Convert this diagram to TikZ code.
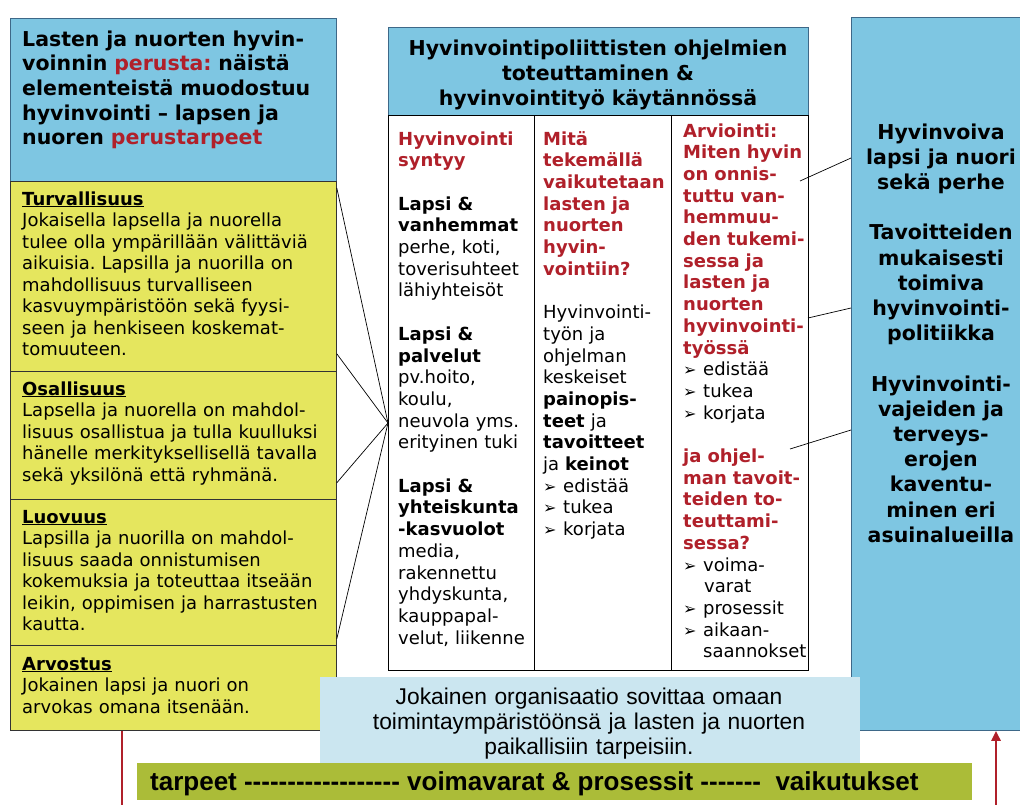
\documentclass[tikz,border=0pt]{standalone}
\usepackage{fontspec}
\setmainfont{DejaVu Sans}
\newfontfamily\arialfont{Liberation Sans}
\usetikzlibrary{arrows.meta}
\frenchspacing

\definecolor{skyblue}{RGB}{126,198,226}
\definecolor{skyedge}{RGB}{62,104,136}
\definecolor{lemon}{RGB}{229,230,94}
\definecolor{paleblue}{RGB}{203,230,240}
\definecolor{barolive}{RGB}{171,188,56}
\definecolor{accent}{RGB}{176,32,42}

\newcommand{\bul}{\makebox[20pt][l]{\fontsize{16}{16}\selectfont ➢}}
\newcommand{\hi}[1]{\textcolor{accent}{\textbf{#1}}}
\newcommand{\dashrow}[1]{\foreach \i in {1,...,#1}{-{}}}

\begin{document}
\begin{tikzpicture}[x=1pt,y=-1pt]
\useasboundingbox (0,0) rectangle (1020,804);

% boxes
\begin{scope}[every node/.style={draw,anchor=north west,inner sep=0pt,line width=0.8pt}]
  \node[fill=skyblue,draw=skyedge,minimum width=326pt,minimum height=163pt] (basis) at (10,18) {};
  \node[fill=lemon,draw=black!80,minimum width=326pt,minimum height=190pt] (turva) at (10,181) {};
  \node[fill=lemon,draw=black!80,minimum width=326pt,minimum height=128pt] (osal)  at (10,371) {};
  \node[fill=lemon,draw=black!80,minimum width=326pt,minimum height=146pt] (luov)  at (10,499) {};
  \node[fill=lemon,draw=black!80,minimum width=326pt,minimum height=85pt]  (arvo)  at (10,645) {};
  \node[fill=skyblue,draw=skyedge,minimum width=420pt,minimum height=88pt] (head) at (388,27) {};
  \node[fill=white,minimum width=146pt,minimum height=555pt] (col1) at (388,115) {};
  \node[fill=white,minimum width=137pt,minimum height=555pt] (col2) at (534,115) {};
  \node[fill=white,minimum width=137pt,minimum height=555pt] (col3) at (671,115) {};
  \node[fill=skyblue,draw=skyedge,minimum width=180pt,minimum height=713pt] (goal) at (851,17) {};
\end{scope}

% left column texts
\begin{scope}[every node/.style={anchor=base west,inner sep=0pt,align=left,text width=330pt,
    font=\fontsize{18}{21.5}\selectfont}]
  \node[font=\bfseries\fontsize{20.5}{24.7}\selectfont] (basistext) at (22,46)
    {Lasten ja nuorten hyvin-\\ voinnin \hi{perusta:} näistä\\ elementeistä muodostuu\\
     hyvinvointi – lapsen ja\\ nuoren \hi{perustarpeet}};
  \node (turvatext) at (22,205)
    {\textbf{\underline{Turvallisuus}}\\ Jokaisella lapsella ja nuorella\\ tulee olla ympärillään välittäviä\\
     aikuisia. Lapsilla ja nuorilla on\\ mahdollisuus turvalliseen\\ kasvuympäristöön sekä fyysi-\\
     seen ja henkiseen koskemat-\\ tomuuteen.};
  \node (osaltext) at (22,395)
    {\textbf{\underline{Osallisuus}}\\ Lapsella ja nuorella on mahdol-\\ lisuus osallistua ja tulla kuulluksi\\
     hänelle merkityksellisellä tavalla\\ sekä yksilönä että ryhmänä.};
  \node (luovtext) at (22,523)
    {\textbf{\underline{Luovuus}}\\ Lapsilla ja nuorilla on mahdol-\\ lisuus saada onnistumisen\\
     kokemuksia ja toteuttaa itseään\\ leikin, oppimisen ja harrastusten\\ kautta.};
  \node (arvotext) at (22,670)
    {\textbf{\underline{Arvostus}}\\ Jokainen lapsi ja nuori on\\ arvokas omana itsenään.};
\end{scope}

% middle texts
\node[anchor=base,inner sep=0pt,align=center,text width=420pt,
  font=\bfseries\fontsize{20.5}{25}\selectfont] (headtext) at (598,55)
  {Hyvinvointipoliittisten ohjelmien\\ toteuttaminen \&\\ hyvinvointityö käytännössä};

\begin{scope}[every node/.style={anchor=base west,inner sep=0pt,align=left,text width=150pt,
    font=\fontsize{18}{21.7}\selectfont}]
  \node (col1text) at (398,145)
    {\hi{Hyvinvointi}\\ \hi{syntyy}\\[21.7pt]
     \textbf{Lapsi \&}\\ \textbf{vanhemmat}\\ perhe, koti,\\ toverisuhteet\\ lähiyhteisöt\\[21.7pt]
     \textbf{Lapsi \&}\\ \textbf{palvelut}\\ pv.hoito,\\ koulu,\\ neuvola yms.\\ erityinen tuki\\[21.7pt]
     \textbf{Lapsi \&}\\ \textbf{yhteiskunta}\\ \textbf{-kasvuolot}\\ media,\\ rakennettu\\
     yhdyskunta,\\ kauppapal-\\ velut, liikenne};
  \node (col2text) at (543,145)
    {\hi{Mitä}\\ \hi{tekemällä}\\ \hi{vaikutetaan}\\ \hi{lasten ja}\\ \hi{nuorten}\\ \hi{hyvin-}\\
     \hi{vointiin?}\\[21.7pt]
     Hyvinvointi-\\ työn ja\\ ohjelman\\ keskeiset\\ \textbf{painopis-}\\ \textbf{teet} ja\\
     \textbf{tavoitteet}\\ ja \textbf{keinot}\\ \bul edistää\\ \bul tukea\\ \bul korjata};
  \node (col3text) at (683,137)
    {\hi{Arviointi:}\\ \hi{Miten hyvin}\\ \hi{on onnis-}\\ \hi{tuttu van-}\\ \hi{hemmuu-}\\
     \hi{den tukemi-}\\ \hi{sessa ja}\\ \hi{lasten ja}\\ \hi{nuorten}\\ \hi{hyvinvointi-}\\ \hi{työssä}\\
     \bul edistää\\ \bul tukea\\ \bul korjata\\[21.7pt]
     \hi{ja ohjel-}\\ \hi{man tavoit-}\\ \hi{teiden to-}\\ \hi{teuttami-}\\ \hi{sessa?}\\
     \bul voima-\\ \hspace*{21pt}varat\\ \bul prosessit\\ \bul aikaan-\\ \hspace*{20pt}saannokset};
\end{scope}

% right column text
\node[anchor=base,inner sep=0pt,align=center,text width=200pt,
  font=\bfseries\fontsize{20.5}{25.2}\selectfont] (goaltext) at (941,139)
  {Hyvinvoiva\\ lapsi ja nuori\\ sekä perhe\\[25.2pt]
   Tavoitteiden\\ mukaisesti\\ toimiva\\ hyvinvointi-\\ politiikka\\[25.2pt]
   Hyvinvointi-\\ vajeiden ja\\ terveys-\\ erojen\\ kaventu-\\ minen eri\\ asuinalueilla};

% connectors
\coordinate (fan) at (388,423);
\coordinate (arv1) at (800,181);
\coordinate (arv2) at (808,318);
\coordinate (arv3) at (790,449);
\coordinate (out1) at (851,158);
\coordinate (out2) at (851,308);
\coordinate (out3) at (851,430);
\begin{scope}[every edge/.style={draw,line width=0.7pt}]
  \path (fan) edge ([yshift=-7pt]turva.north east);
  \path (fan) edge ([yshift=18pt]turva.south east);
  \path (fan) edge ([yshift=17pt]osal.south east);
  \path (fan) edge ([yshift=7pt]luov.south east);
  \path (arv1) edge (out1);
  \path (arv2) edge (out2);
  \path (arv3) edge (out3);
\end{scope}

% bottom
\coordinate (need) at (122,806);
\coordinate (impact) at (996,806);
\draw[accent,line width=2.5pt] (need |- arvo.south) -- (need);
\draw[accent,line width=2.5pt,-{Triangle[length=10pt,width=9pt]}] (impact) -- (impact |- goal.south);

\node[fill=paleblue,anchor=north west,inner sep=0pt,minimum width=540pt,minimum height=89pt] (local) at (320,677) {};
\node[anchor=base,inner sep=0pt,align=center,text width=540pt,
  font=\arialfont\fontsize{22.8}{25}\selectfont] (localtext) at (589,704)
  {Jokainen organisaatio sovittaa omaan\\ toimintaympäristöönsä ja lasten ja nuorten\\ paikallisiin tarpeisiin.};

\node[fill=barolive,anchor=north west,inner sep=0pt,minimum width=835pt,minimum height=37pt] (bar) at (137,763) {};
\node[anchor=base west,inner sep=0pt,font=\arialfont\bfseries\fontsize{26}{26}\selectfont] (bartext) at (150,790)
  {tarpeet \dashrow{18} voimavarat \& prosessit \dashrow{7}\ \ vaikutukset};

\end{tikzpicture}
\end{document}
